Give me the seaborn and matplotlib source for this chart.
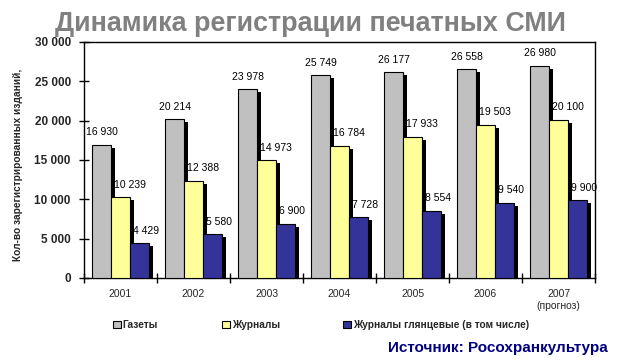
import matplotlib
matplotlib.use("Agg")
import matplotlib.pyplot as plt
from matplotlib.patches import Rectangle, Patch
import seaborn as sns
import pandas as pd

years = ["2001", "2002", "2003", "2004", "2005", "2006", "2007\n(прогноз)"]
series_names = ["Газеты", "Журналы", "Журналы глянцевые (в том числе)"]
newspapers = [16930, 20214, 23978, 25749, 26177, 26558, 26980]
magazines = [10239, 12388, 14973, 16784, 17933, 19503, 20100]
glossy = [4429, 5580, 6900, 7728, 8554, 9540, 9900]
colors = ["#C0C0C0", "#FFFF99", "#333399"]
y_ticks = [0, 5000, 10000, 15000, 20000, 25000, 30000]

rows = []
for i, y in enumerate(years):
    for name, vals in zip(series_names, [newspapers, magazines, glossy]):
        rows.append({"year": y, "series": name, "value": vals[i]})
df = pd.DataFrame(rows)

sns.set_theme(style="white")
plt.rcParams["font.family"] = ["Liberation Sans", "DejaVu Sans"]

fig = plt.figure(figsize=(6.27, 3.61), dpi=100)
ax = fig.add_axes([84/627, 1-278/361, (595-84)/627, (278-42)/361])

sns.barplot(data=df, x="year", y="value", hue="series", palette=colors,
            width=0.78, edgecolor="black", linewidth=0.8, ax=ax,
            legend=False, zorder=3, saturation=1)

def fmt(v):
    return f"{v:,}".replace(",", " ")

# shadows and labels
dx = 0.05
dy = 380
label_shift = [0.0, 0.13, 0.09]
bars = [p for p in ax.patches if p.get_height() > 0]
bars.sort(key=lambda p: p.get_x())
for k, p in enumerate(bars):
    x, w, h = p.get_x(), p.get_width(), p.get_height()
    ax.add_patch(Rectangle((x + dx, 0), w, h - dy, facecolor="black",
                           edgecolor="none", zorder=2))
    ax.text(x + w / 2 + label_shift[k % 3], h + 950, fmt(int(round(h))),
            ha="center", va="bottom", fontsize=7.5, color="black", zorder=6)

ax.set_ylim(0, 30000)
ax.set_xlim(-0.5, len(years) - 0.5)
ax.set_yticks(y_ticks)
ax.set_yticklabels([fmt(t) for t in y_ticks], fontsize=8.5, fontweight="bold")
ax.set_xticks(range(len(years)))
ax.set_xticklabels(years, fontsize=7.5)
ax.tick_params(axis="x", length=0, pad=8)
ax.tick_params(axis="y", direction="inout", length=7, width=1, color="black",
               left=True, pad=6)
ax.set_xticks([i - 0.5 for i in range(len(years) + 1)], minor=True)
ax.tick_params(axis="x", which="minor", direction="inout", length=7, width=1,
               color="black", bottom=True)
for s in ax.spines.values():
    s.set_visible(True)
    s.set_color("black")
    s.set_linewidth(1)
ax.set_xlabel("")
ax.set_ylabel("Кол-во зарегистрированных изданий,", fontsize=7.3,
              fontweight="bold")
ax.yaxis.set_label_coords((23-84)/511, (278-165)/236)
ax.grid(False)

fig.text(0.495, 1-24/361, "Динамика регистрации печатных СМИ", ha="center",
         va="center", fontsize=19.4, fontweight="bold", color="#808080")

leg_x = [113, 222, 343]
for c, name, lx in zip(colors, series_names, leg_x):
    lg = fig.legend([Patch(facecolor=c, edgecolor="black", linewidth=0.8)],
                    [name], loc="center left",
                    bbox_to_anchor=(lx/627, 1-325/361), frameon=False,
                    prop={"size": 7.3, "weight": "bold"}, handlelength=0.75,
                    handleheight=0.75, handletextpad=0.2,
                    borderaxespad=0, borderpad=0)

fig.text(608/627, 1-348/361, "Источник: Росохранкультура", ha="right",
         va="center", fontsize=11, fontweight="bold", color="#000080")

fig.savefig("out.png", dpi=100)
